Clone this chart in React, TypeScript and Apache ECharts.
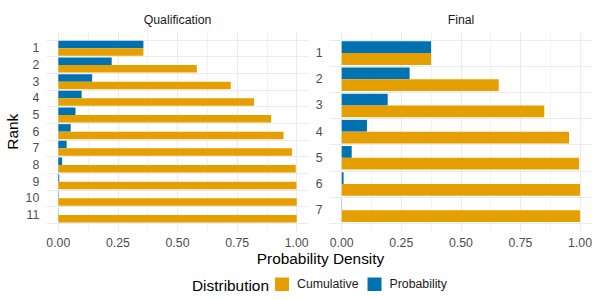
import React, { useEffect, useRef } from "react";
import * as echarts from "echarts";

const qualRanks = ["1", "2", "3", "4", "5", "6", "7", "8", "9", "10", "11"];
const qualProb = [0.357, 0.224, 0.142, 0.098, 0.072, 0.052, 0.035, 0.016, 0.004, 0.0015, 0.0008];
const qualCum = [0.357, 0.581, 0.723, 0.821, 0.893, 0.945, 0.980, 0.996, 0.999, 1.0, 1.0];

const finalRanks = ["1", "2", "3", "4", "5", "6", "7"];
const finalProb = [0.375, 0.285, 0.193, 0.106, 0.042, 0.008, 0.001];
const finalCum = [0.375, 0.659, 0.850, 0.954, 0.996, 1.0, 1.0];

const xTicks = [0, 0.25, 0.5, 0.75, 1.0];

const BLUE = "#0072B2";
const ORANGE = "#E69F00";
const GRID = "#EBEBEB";
const TICK = "#4D4D4D";
const FONT = "Liberation Sans, Arial, sans-serif";

export default function App() {
  const ref = useRef<HTMLDivElement>(null);
  useEffect(() => {
    if (!ref.current) return;
    const chart = echarts.init(ref.current, undefined, { renderer: "svg" });

    const panels = [
      { ranks: qualRanks, prob: qualProb, cum: qualCum, left: 58.3, width: 238.4, outerLeft: 46.4, outerWidth: 262.2 },
      { ranks: finalRanks, prob: finalProb, cum: finalCum, left: 341.7, width: 238.3, outerLeft: 329.8, outerWidth: 262.1 },
    ];
    const innerTop = 40;
    const innerH = 183.3;
    const panelTop = 31.7;
    const panelH = 200;

    const grids: any[] = [];
    const xAxes: any[] = [];
    const yAxes: any[] = [];
    const series: any[] = [];

    panels.forEach((p, i) => {
      const base = i * 3;
      grids.push({ left: p.left, top: innerTop, width: p.width, height: innerH });
      grids.push({ left: p.outerLeft, top: innerTop, width: p.outerWidth, height: innerH });
      grids.push({ left: p.left, top: panelTop, width: p.width, height: panelH });

      xAxes.push({ type: "value", gridIndex: base, min: 0, max: 1, show: false });
      xAxes.push({ type: "value", gridIndex: base + 1, min: 0, max: 1, show: false });
      xAxes.push({
        type: "value",
        gridIndex: base + 2,
        min: 0,
        max: 1,
        interval: 0.25,
        axisLine: { show: false },
        axisTick: { show: false },
        axisLabel: {
          formatter: (v: number) => (xTicks.includes(v) ? v.toFixed(2) : ""),
          color: TICK,
          fontSize: 12.3,
          fontFamily: FONT,
          margin: 5,
        },
        splitLine: { show: true, lineStyle: { color: GRID, width: 1.1 } },
        minorTick: { show: false, splitNumber: 2 },
        minorSplitLine: { show: true, lineStyle: { color: GRID, width: 0.6 } },
      });

      yAxes.push({
        type: "category",
        gridIndex: base,
        data: p.ranks,
        inverse: true,
        axisLine: { show: false },
        axisTick: { show: false },
        splitLine: { show: false },
        axisLabel: { color: TICK, fontSize: 12.3, fontFamily: FONT, margin: 19, interval: 0 },
      });
      yAxes.push({
        type: "category",
        gridIndex: base + 1,
        data: p.ranks,
        inverse: true,
        axisLine: { show: false },
        axisTick: { show: false, interval: 0 },
        axisLabel: { show: false },
        splitLine: { show: true, interval: 0, lineStyle: { color: GRID, width: 1.1 } },
      });
      yAxes.push({ type: "value", gridIndex: base + 2, min: 0, max: 1, show: false });

      series.push({
        type: "bar",
        name: "Probability",
        xAxisIndex: base,
        yAxisIndex: base,
        data: p.prob,
        itemStyle: { color: BLUE },
        barGap: "0%",
        barCategoryGap: "10%",
        z: 3,
      });
      series.push({
        type: "bar",
        name: "Cumulative",
        xAxisIndex: base,
        yAxisIndex: base,
        data: p.cum,
        itemStyle: { color: ORANGE },
        barGap: "0%",
        barCategoryGap: "10%",
        z: 3,
      });
    });

    const text = (t: string, x: number, y: number, size: number, color: string, extra: any = {}) => ({
      type: "text",
      x,
      y,
      style: {
        text: t,
        fontSize: size,
        fontFamily: FONT,
        fill: color,
        textAlign: "center",
        textVerticalAlign: "middle",
      },
      ...extra,
    });

    chart.setOption({
      animation: false,
      backgroundColor: "#FFFFFF",
      grid: grids,
      xAxis: xAxes,
      yAxis: yAxes,
      series,
      legend: {
        data: ["Cumulative", "Probability"],
        left: 275,
        top: 277.5,
        padding: 0,
        icon: "rect",
        itemWidth: 14,
        itemHeight: 13.5,
        itemGap: 9,
        selectedMode: false,
        textStyle: { fontSize: 12.3, fontFamily: FONT, color: "#1A1A1A", padding: [0, 0, 0, 3] },
      },
      graphic: [
        text("Qualification", 177.5, 19.5, 12.3, "#1A1A1A"),
        text("Final", 461, 19.5, 12.3, "#1A1A1A"),
        text("Probability Density", 320.5, 258, 15.4, "#000000"),
        text("Rank", 12, 131.7, 15.4, "#000000", { rotation: Math.PI / 2 }),
        {
          type: "text",
          x: 192,
          y: 285,
          style: {
            text: "Distribution",
            fontSize: 15.4,
            fontFamily: FONT,
            fill: "#000000",
            textAlign: "left",
            textVerticalAlign: "middle",
          },
        },
      ],
    });

    return () => chart.dispose();
  }, []);

  return <div ref={ref} style={{ position: "fixed", left: 0, top: 0, width: 600, height: 300 }} />;
}
